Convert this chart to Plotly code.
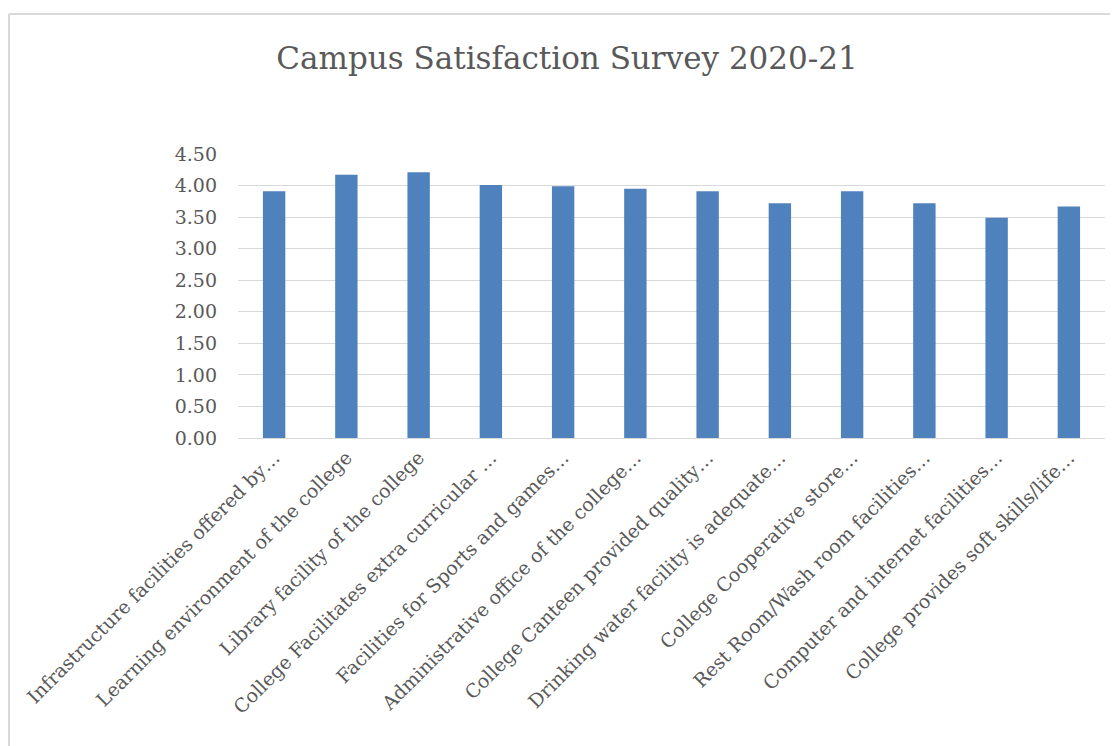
import plotly.graph_objects as go

categories = [
    "Infrastructure facilities offered by…",
    "Learning environment of the college",
    "Library facility of the college",
    "College Facilitates extra curricular …",
    "Facilities for Sports and games…",
    "Administrative office of the college…",
    "College Canteen provided quality…",
    "Drinking water facility is adequate…",
    "College Cooperative store…",
    "Rest Room/Wash room facilities…",
    "Computer and internet facilities…",
    "College provides soft skills/life…",
]
values = [3.91, 4.17, 4.21, 4.01, 3.99, 3.95, 3.91, 3.72, 3.91, 3.72, 3.49, 3.67]
y_ticks = [0, 0.5, 1.0, 1.5, 2.0, 2.5, 3.0, 3.5, 4.0, 4.5]

W, H = 1118, 746
OFF = 8  # page body margin offset
L, R, T, B = 238 - OFF, 13 + OFF, 154 - OFF, 308 + OFF
pw = W - L - R
ph = H - T - B

fig = go.Figure(go.Bar(x=categories, y=values, marker_color="#4f81bd",
                       marker_line_width=0, width=0.31))

font_fam = "DejaVu Serif, Liberation Serif, serif"
fig.update_layout(
    width=W, height=H,
    margin=dict(l=L, r=R, t=T, b=B),
    paper_bgcolor="white", plot_bgcolor="white",
    title=dict(text="Campus Satisfaction Survey 2020-21", x=0.5, xanchor="center",
               y=1 - (58 - OFF) / H, yanchor="middle",
               font=dict(family=font_fam, size=31, color="#595959")),
    font=dict(family=font_fam, color="#595959"),
    showlegend=False,
)
fig.update_xaxes(tickangle=-45, tickfont=dict(size=19, color="#595959"),
                 showline=True, linecolor="#d9d9d9", linewidth=1, ticks="",
                 showgrid=False, automargin=False)
fig.update_yaxes(range=[0, 4.5], tickvals=y_ticks,
                 ticktext=[f"{v:.2f}" for v in y_ticks],
                 tickfont=dict(size=19, color="#595959"),
                 showgrid=True, gridcolor="#d9d9d9", gridwidth=1,
                 zeroline=False, showline=False, ticklabelstandoff=20,
                 automargin=False)

# chart-area border (left and top edges visible)
x0 = (9 - OFF - L) / pw
x1 = (W + 20 - L) / pw
ytop = 1 + (T - (14 - OFF)) / ph
ybot = -(B + 20) / ph
fig.add_shape(type="line", xref="paper", yref="paper", x0=x0, x1=x0, y0=ybot, y1=ytop,
              line=dict(color="#d9d9d9", width=2))
fig.add_shape(type="line", xref="paper", yref="paper", x0=x0, x1=x1, y0=ytop, y1=ytop,
              line=dict(color="#d9d9d9", width=2))

fig.write_html("out.html")
